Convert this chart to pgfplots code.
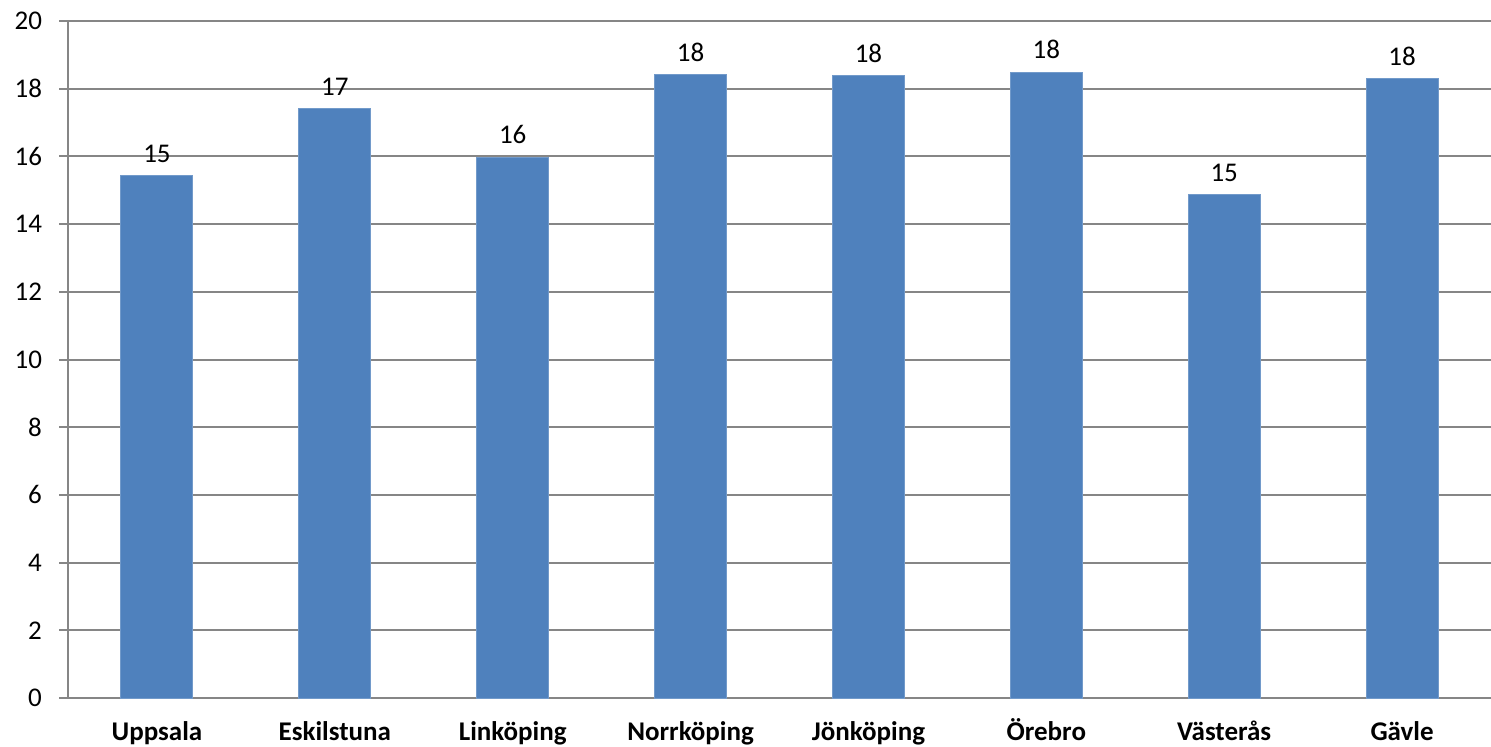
\documentclass[border=0pt]{standalone}
\usepackage{pgfplots}
\pgfplotsset{compat=1.18}
\usepackage{fontspec}
\setmainfont{Carlito}
\definecolor{barblue}{HTML}{4F81BD}
\definecolor{gridgray}{HTML}{868686}
\begin{document}
\begin{tikzpicture}
\begin{axis}[
  name=ax,
  at={(0,0)}, anchor=south west,
  scale only axis,
  width=711.5pt, height=338.5pt,
  xmin=-0.5, xmax=7.5,
  ymin=0, ymax=20,
  ytick={0,2,...,20},
  xtick={0,...,7},
  xticklabels={Uppsala,Eskilstuna,Linköping,Norrköping,Jönköping,Örebro,Västerås,Gävle},
  x tick label style={font=\fontsize{13.5}{16}\selectfont\bfseries, text height=9pt, text depth=3pt, yshift=-4pt},
  y tick label style={font=\fontsize{13.5}{16}\selectfont, xshift=-5pt},
  /pgf/number format/assume math mode=true,
  major x tick style={draw=none},
  extra x ticks={-0.5,0.5,...,7.5},
  extra x tick labels={},
  extra x tick style={major tick length=5pt, tick style={draw=gridgray, line width=1pt}, tick align=outside},
  major tick length=4.5pt,
  tick align=outside,
  ytick style={draw=gridgray, line width=1pt},
  ymajorgrids,
  grid style={draw=gridgray, line width=1pt},
  axis x line*=bottom,
  axis y line*=left,
  axis line style={draw=gridgray, line width=1pt, -},
  clip=false,
]
\addplot[ybar, bar width=0.405, fill=barblue, draw=barblue!80!white, line width=0.5pt,
  nodes near coords,
  nodes near coords style={font=\fontsize{13.5}{16}\selectfont, /pgf/number format/fixed, /pgf/number format/precision=0, anchor=south, yshift=3pt, text=black},
] coordinates {
  (0,15.44) (1,17.42) (2,15.98) (3,18.42) (4,18.39) (5,18.49) (6,14.87) (7,18.30)
};
\end{axis}
\pgfresetboundingbox
\path (-34pt,-24pt) rectangle (711.5pt,349pt);
\end{tikzpicture}
\end{document}
